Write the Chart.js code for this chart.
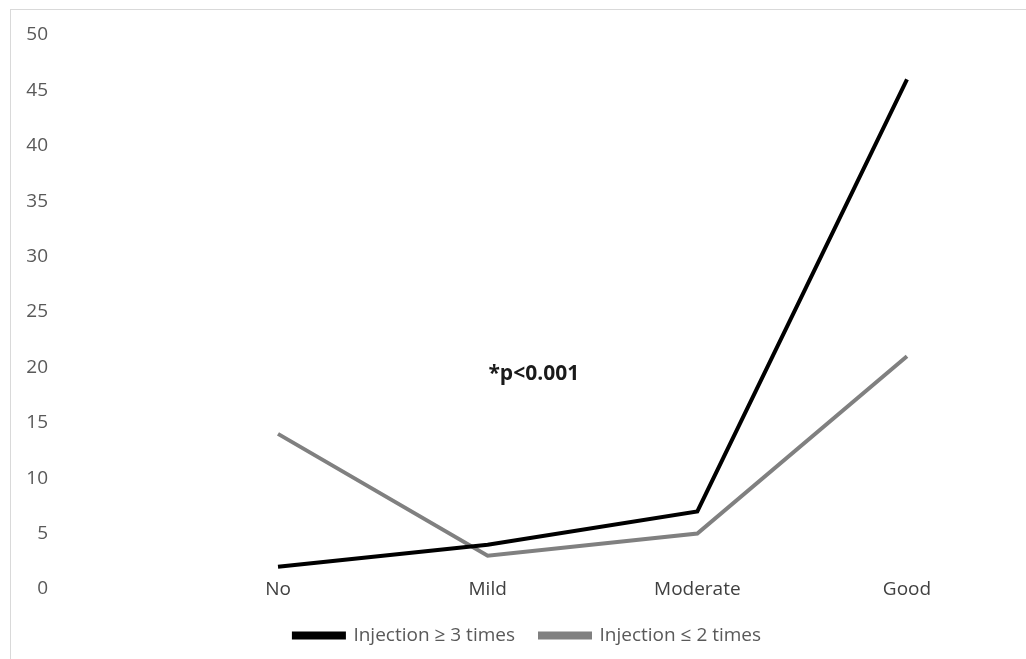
<!DOCTYPE html>
<html>
<head>
<meta charset="utf-8">
<script src="https://cdn.jsdelivr.net/npm/chart.js@4"></script>
<style>
    html, body { margin: 0; padding: 0; background: #fff; overflow: hidden; }
    #frame {
        position: absolute; left: 10px; top: 9px;
        width: 1040px; height: 700px;
        border: 1px solid #d9d9d9;
    }
    #outcomeChart { position: absolute; left: 0; top: 0; }
</style>
</head>
<body>
<div id="frame"></div>
<canvas id="outcomeChart" width="1030" height="655"></canvas>
<script>
const categories = ['No', 'Mild', 'Moderate', 'Good'];
const seriesNames = ['Injection \u2265 3 times', 'Injection \u2264 2 times'];
const injection3Plus = [2, 4, 7, 46];
const injection2Less = [14, 3, 5, 21];
const yTicks = [0, 5, 10, 15, 20, 25, 30, 35, 40, 45, 50];
const noteText = '*p<0.001';
const noteAt = { x: 1.22, y: 19.4 };

const FONT = '"Open Sans", "Noto Sans", sans-serif';

const notePlugin = {
    id: 'pNote',
    afterDatasetsDraw(chart) {
        const { ctx, scales } = chart;
        ctx.save();
        ctx.font = 'bold 21px ' + FONT;
        ctx.fillStyle = '#1a1a1a';
        ctx.textAlign = 'center';
        ctx.textBaseline = 'middle';
        ctx.fillText(noteText, scales.x.getPixelForValue(noteAt.x), scales.y.getPixelForValue(noteAt.y));
        ctx.restore();
    }
};

new Chart(document.getElementById('outcomeChart'), {
    type: 'line',
    data: {
        labels: categories,
        datasets: [{
            label: seriesNames[0],
            data: injection3Plus,
            borderColor: '#000000',
            backgroundColor: '#000000',
            borderWidth: 4,
            pointRadius: 0,
            tension: 0
        }, {
            label: seriesNames[1],
            data: injection2Less,
            borderColor: '#808080',
            backgroundColor: '#808080',
            borderWidth: 4,
            pointRadius: 0,
            tension: 0
        }]
    },
    options: {
        responsive: false,
        animation: false,
        layout: { padding: { left: 25, right: 0, top: 35, bottom: 0 } },
        scales: {
            x: {
                offset: false,
                afterFit: s => { s.height = 12; s.paddingRight = 123; s.paddingLeft = 0; },
                grid: { display: false, drawTicks: false },
                border: { display: false },
                ticks: {
                    mirror: true,
                    padding: -12,
                    color: '#404040',
                    font: { family: FONT, size: 19 }
                }
            },
            y: {
                min: 0,
                max: 50,
                afterBuildTicks: s => { s.ticks = yTicks.map(v => ({ value: v })); },
                afterFit: s => { s.width = 253; s.paddingTop = 0; s.paddingBottom = 0; },
                grid: { display: false, drawTicks: false },
                border: { display: false },
                ticks: {
                    padding: 230,
                    color: '#595959',
                    font: { family: FONT, size: 19 }
                }
            }
        },
        plugins: {
            legend: {
                position: 'bottom',
                labels: {
                    boxWidth: 50,
                    boxHeight: 4,
                    padding: 25,
                    color: '#595959',
                    font: { family: FONT, size: 19 }
                }
            },
            tooltip: { enabled: false }
        }
    },
    plugins: [notePlugin]
});
</script>
</body>
</html>
